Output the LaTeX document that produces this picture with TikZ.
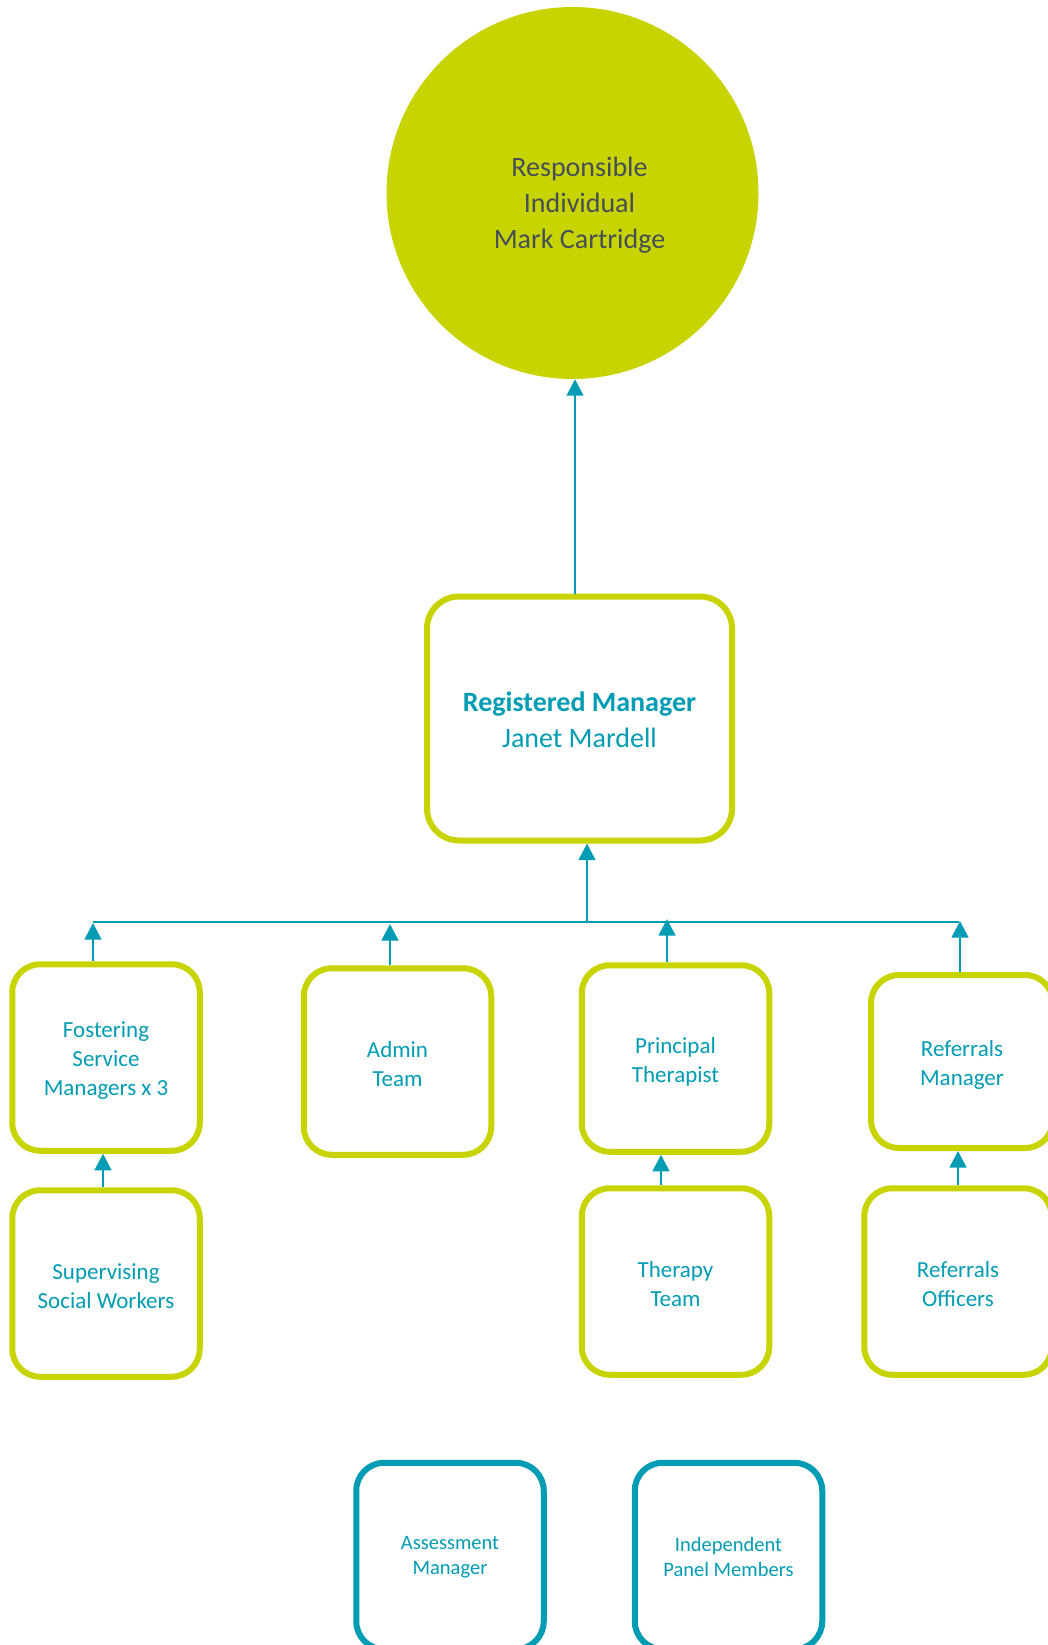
\documentclass[tikz,border=0pt]{standalone}
\usepackage{fontspec}
\setmainfont{Carlito}
\usetikzlibrary{arrows.meta}
\definecolor{lime}{RGB}{200,212,0}
\definecolor{tealc}{RGB}{0,156,180}
\definecolor{darktext}{RGB}{70,78,86}
\begin{document}
\begin{tikzpicture}[x=1pt,y=-1pt,
  gbox/.style={draw=lime, line width=6pt, rounded corners=28pt, fill=white,
    inner sep=0pt, minimum width=187.5pt, minimum height=186.5pt},
  tbox/.style={gbox, draw=tealc},
  btext/.style={align=center, text=tealc, font=\fontsize{23}{29}\selectfont, yshift=-3pt},
  stext/.style={align=center, text=tealc, font=\fontsize{20.5}{25.5}\selectfont, yshift=-1pt},
  arr/.style={draw=tealc, line width=2.8pt, -{Triangle[length=16.5pt,width=16.5pt]}},
  bus/.style={draw=tealc, line width=2pt}]
\useasboundingbox (0,0) rectangle (1047,1645);

% top circle
\node[circle, fill=lime, minimum size=372pt, inner sep=0pt,
  label={[name=ritext, align=center, text=darktext, font=\fontsize{28}{36}\selectfont, xshift=7pt, yshift=-12pt]center:Responsible\\Individual\\Mark Cartridge}] (ri) at (572.5,193) {};

% registered manager
\node[gbox, rounded corners=32pt, minimum width=305pt, minimum height=244pt,
  label={[name=rmtext, align=center, text=tealc, font=\fontsize{28}{36}\selectfont, yshift=-1pt]center:\textbf{Registered Manager}\\Janet Mardell}] (rm) at (579.5,718.5) {};

% second row
\node[gbox, label={[btext]center:Fostering\\Service\\Managers x 3}] (fsm) at (106,1057.5) {};
\node[gbox, label={[btext]center:Admin\\Team}] (adm) at (397.5,1061.5) {};
\node[gbox, label={[btext]center:Principal\\Therapist}] (pth) at (675.5,1058.5) {};
\node[gbox, minimum width=182pt, minimum height=173pt, label={[btext]center:Referrals\\Manager}] (rfm) at (962,1061.5) {};

% third row
\node[gbox, label={[btext]center:Supervising\\Social Workers}] (sup) at (106,1283.5) {};
\node[gbox, label={[btext]center:Therapy\\Team}] (thy) at (675.5,1281.5) {};
\node[gbox, label={[btext]center:Referrals\\Officers}] (rfo) at (958,1281.5) {};

% bottom row
\node[tbox, label={[stext]center:Assessment\\Manager}] (asm) at (450,1556) {};
\node[tbox, label={[stext]center:Independent\\Panel Members}] (ipm) at (728.5,1556) {};

% connectors
\coordinate (up) at (575,0);
\draw[arr] (up |- rm.north) -- (up |- ri.south);

\coordinate (busL) at (93,922);
\coordinate (busR) at (959,922);
\coordinate (hub) at (587,922);
\draw[bus] (busL) -- (busR);
\draw[arr] (hub) -- (hub |- rm.south);

\coordinate (t1) at (93,923);
\coordinate (t2) at (390,924);
\coordinate (t3) at (667,919);
\coordinate (t4) at (960,921);
\draw[arr] (t1 |- fsm.north) -- (t1);
\draw[arr] (t2 |- adm.north) -- (t2);
\draw[arr] (t3 |- pth.north) -- (t3);
\draw[arr] (t4 |- rfm.north) -- (t4);

\coordinate (u1) at (103,0);
\coordinate (u2) at (661,0);
\coordinate (u3) at (958,0);
\draw[arr] (u1 |- sup.north) -- (u1 |- fsm.south);
\draw[arr] (u2 |- thy.north) -- (u2 |- pth.south);
\draw[arr] (u3 |- rfo.north) -- (u3 |- rfm.south);
\end{tikzpicture}
\end{document}
